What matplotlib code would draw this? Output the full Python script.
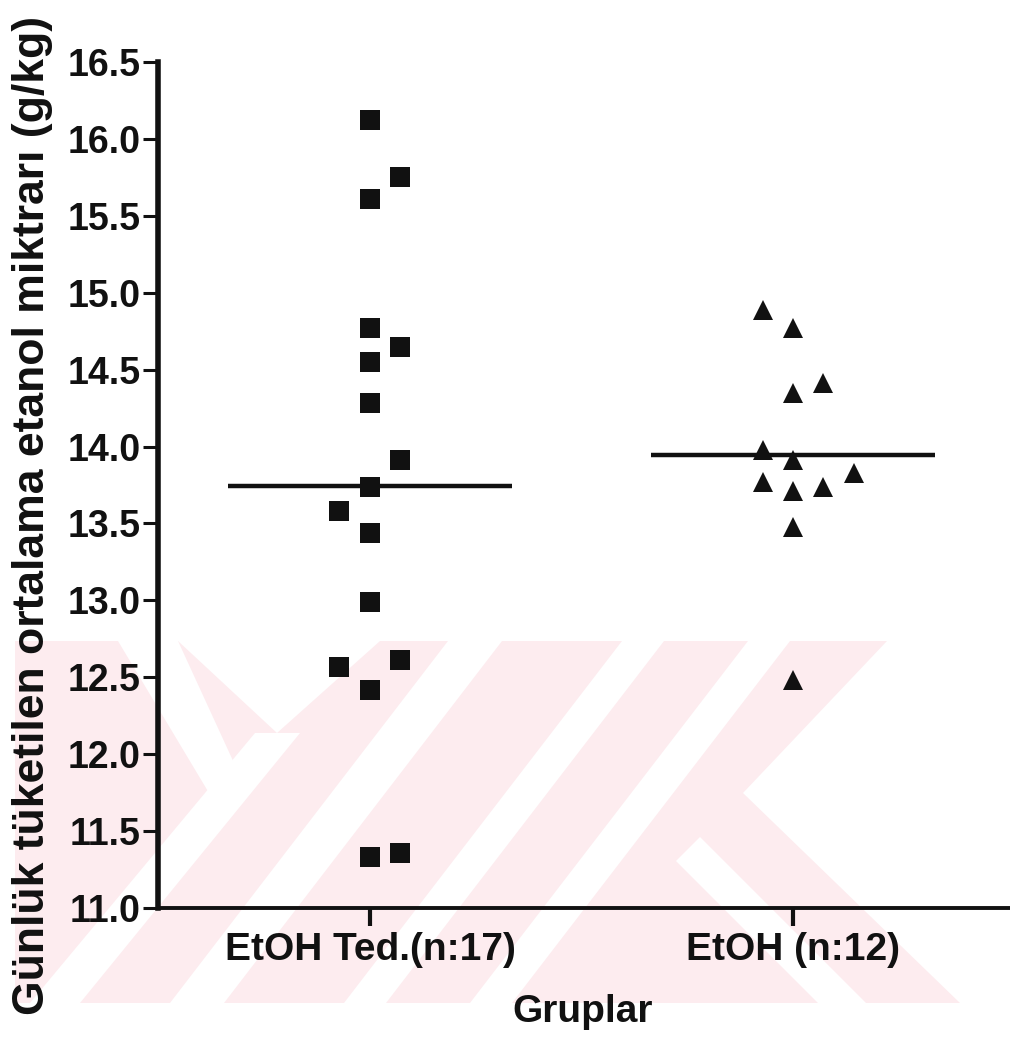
import matplotlib
matplotlib.use("Agg")
import matplotlib.pyplot as plt
from matplotlib.patches import Polygon
import numpy as np

# ---------------- data ----------------
groups = ["EtOH Ted.(n:17)", "EtOH (n:12)"]

etoh_ted = [16.12, 15.75, 15.61, 14.77, 14.65, 14.55, 14.28, 13.91, 13.74,
            13.58, 13.44, 12.99, 12.57, 12.61, 12.42, 11.33, 11.36]
etoh_ted_col = [0, 1, 0, 0, 1, 0, 0, 1, 0, -1, 0, 0, -1, 1, 0, 0, 1]

etoh = [14.89, 14.77, 14.41, 14.35, 13.98, 13.91, 13.77, 13.83, 13.74,
        13.71, 13.48, 12.48]
etoh_col = [-1, 0, 1, 0, -1, 0, -1, 2, 1, 0, 0, 0]

y_ticks = [11.0, 11.5, 12.0, 12.5, 13.0, 13.5, 14.0, 14.5, 15.0, 15.5, 16.0, 16.5]
y_label = "Günlük tüketilen ortalama etanol miktrarı (g/kg)"
x_label = "Gruplar"

# ---------------- style ----------------
W, H = 1010, 1040
plt.rcParams['font.family'] = ['Liberation Sans', 'DejaVu Sans']
INK = '#111111'
PINK = '#fdecef'
JIT = 0.072

fig = plt.figure(figsize=(W / 100, H / 100), dpi=100, facecolor='white')


def px(pts):
    return [(x / W, 1 - y / H) for x, y in pts]


# faint background watermark (decoration only)
pink_shapes = [[(15, 641), (1010, 641), (1010, 1003), (15, 1003)]]
white_shapes = [
    [(118, 641), (178, 641), (240, 776), (212, 798)],
    [(178, 641), (277, 733), (380, 641)],
    [(255, 733), (300, 733), (80, 1003), (30, 1003)],
    [(448, 641), (502, 641), (224, 1003), (170, 1003)],
    [(622, 641), (664, 641), (386, 1003), (344, 1003)],
    [(748, 641), (790, 641), (512, 1003), (470, 1003)],
    [(887, 641), (1010, 641), (1010, 1003), (960, 1003), (743, 793)],
    [(700, 837), (676, 861), (818, 1003), (866, 1003)],
]
for s in pink_shapes:
    fig.patches.append(Polygon(px(s), closed=True, transform=fig.transFigure,
                               facecolor=PINK, edgecolor='none', zorder=-10))
for s in white_shapes:
    fig.patches.append(Polygon(px(s), closed=True, transform=fig.transFigure,
                               facecolor='white', edgecolor='none', zorder=-9))

left, right = 158 / W, 1010 / W
bottom, top = 1 - 908 / H, 1 - 62 / H
ax = fig.add_axes([left, bottom, right - left, top - bottom])
ax.set_zorder(5)
ax.patch.set_alpha(0)

x0 = np.zeros(len(etoh_ted)) + np.array(etoh_ted_col) * JIT
x1 = np.ones(len(etoh)) + np.array(etoh_col) * JIT
ax.plot(x0, etoh_ted, linestyle='none', marker='s', markersize=14.2,
        color=INK, markeredgewidth=0, zorder=3)
ax.plot(x1, etoh, linestyle='none', marker='^', markersize=14.2,
        color=INK, markeredgewidth=0, zorder=3)

for i, vals in enumerate([etoh_ted, etoh]):
    ax.hlines(np.mean(vals), i - 0.335, i + 0.335, color=INK, linewidth=3.2, zorder=2)

ax.set_xlim(-0.501, 1.513)
ax.set_ylim(11.0, 16.5)
ax.set_yticks(y_ticks)
ax.set_yticklabels([f"{v:.1f}" for v in y_ticks], fontsize=27, fontweight='bold', color=INK)
ax.set_xticks([0, 1])
ax.set_xticklabels(groups, fontsize=28, fontweight='bold', color=INK)

for s in ['top', 'right']:
    ax.spines[s].set_visible(False)
ax.spines['left'].set_linewidth(4)
ax.spines['bottom'].set_linewidth(2.8)
ax.spines['left'].set_color(INK)
ax.spines['bottom'].set_color(INK)
ax.tick_params(axis='y', length=11, width=2.2, pad=1.5, color=INK)
ax.tick_params(axis='x', length=13, width=3, pad=4, color=INK)

fig.text(33 / W, 1 - 515 / H, y_label, rotation=90, ha='center', va='center',
         fontsize=32, fontweight='bold', color=INK, zorder=6)
fig.text(583 / W, 1 - 1012 / H, x_label, ha='center', va='center',
         fontsize=28, fontweight='bold', color=INK, zorder=6)

fig.savefig('out.png', dpi=100, facecolor='white')
